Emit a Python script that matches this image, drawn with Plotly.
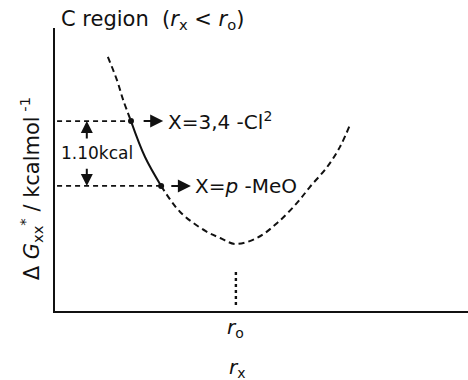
import plotly.graph_objects as go

# Free-energy curve (arbitrary units): dashed outer branches, solid segment between the two substituents
left_x = [1.28, 1.50, 1.65, 1.84]
left_y = [8.98, 8.16, 7.46, 6.71]
mid_x = [1.84, 2.18, 2.57]
mid_y = [6.71, 5.44, 4.42]
right_x = [2.57, 3.03, 3.65, 4.00, 4.36, 4.89, 5.38, 5.86, 6.17, 6.59, 6.90, 7.14]
right_y = [4.42, 3.50, 2.82, 2.58, 2.37, 2.58, 3.11, 3.82, 4.38, 5.09, 5.80, 6.57]

# Substituent points
sub_labels = ["X=3,4 -Cl<sup>2</sup>", "X=<i>p</i> -MeO"]
sub_x = [1.84, 2.57]
sub_y = [6.71, 4.42]
gap_label = "1.10kcal"

r0_x = 4.38
r0_dot_y = [0.21, 1.41]

ink = "#111111"
font_family = "DejaVu Sans, sans-serif"

fig = go.Figure()
dash_style = "6px,4px"
fig.add_trace(go.Scatter(x=left_x, y=left_y, mode="lines",
                         line=dict(color=ink, width=2, dash=dash_style, shape="spline")))
fig.add_trace(go.Scatter(x=mid_x, y=mid_y, mode="lines",
                         line=dict(color=ink, width=2, shape="spline")))
fig.add_trace(go.Scatter(x=right_x, y=right_y, mode="lines",
                         line=dict(color=ink, width=2, dash=dash_style, shape="spline")))

# Horizontal guide lines to the y axis
for sx, sy in zip(sub_x, sub_y):
    fig.add_trace(go.Scatter(x=[0.05, sx], y=[sy, sy], mode="lines",
                             line=dict(color=ink, width=1.7, dash="5px,4px")))

fig.add_trace(go.Scatter(x=sub_x, y=sub_y, mode="markers",
                         marker=dict(color=ink, size=6)))

# Dotted marker above r_o
fig.add_trace(go.Scatter(x=[r0_x, r0_x], y=r0_dot_y, mode="lines",
                         line=dict(color=ink, width=2.4, dash="dot")))

annotations = []
# Pointer arrows and substituent labels
arrow_offsets = [(0.27, 0.78), (0.21, 0.72)]
for (sx, sy), lab, (a0, a1) in zip(zip(sub_x, sub_y), sub_labels, arrow_offsets):
    annotations.append(dict(x=sx + a1, y=sy, ax=sx + a0, ay=sy, xref="x", yref="y",
                            axref="x", ayref="y", text="", showarrow=True,
                            arrowhead=2, arrowsize=1.3, arrowwidth=2, arrowcolor=ink))
    annotations.append(dict(x=sx + a1 + 0.06, y=sy, xref="x", yref="y", text=lab,
                            showarrow=False, xanchor="left", yanchor="middle",
                            font=dict(size=20, color=ink, family=font_family)))

# Double arrow marking the energy gap
gx = 0.77
annotations.append(dict(x=gx, y=sub_y[0], ax=gx, ay=6.04, xref="x", yref="y",
                        axref="x", ayref="y", text="", showarrow=True,
                        arrowhead=2, arrowsize=1.2, arrowwidth=2, arrowcolor=ink))
annotations.append(dict(x=gx, y=sub_y[1], ax=gx, ay=5.08, xref="x", yref="y",
                        axref="x", ayref="y", text="", showarrow=True,
                        arrowhead=2, arrowsize=1.2, arrowwidth=2, arrowcolor=ink))
annotations.append(dict(x=0.1, y=5.58, xref="x", yref="y", text=gap_label,
                        showarrow=False, xanchor="left", yanchor="middle",
                        font=dict(size=17, color=ink, family=font_family)))

# Axis labels and title
annotations.append(dict(x=0.438, y=-0.06, xref="paper", yref="paper",
                        text="<i>r</i><sub>o</sub>", showarrow=False,
                        xanchor="center", yanchor="middle",
                        font=dict(size=20, color=ink, family=font_family)))
annotations.append(dict(x=0.443, y=-0.2, xref="paper", yref="paper",
                        text="<i>r</i><sub>x</sub>", showarrow=False,
                        xanchor="center", yanchor="middle",
                        font=dict(size=20, color=ink, family=font_family)))
annotations.append(dict(x=0.01, y=1.03, xref="paper", yref="paper",
                        text="C region  (<i>r</i><sub>x</sub> &lt; <i>r</i><sub>o</sub>)",
                        showarrow=False, xanchor="left", yanchor="middle",
                        font=dict(size=21, color=ink, family=font_family)))
annotations.append(dict(x=-0.058, y=0.43, xref="paper", yref="paper",
                        text="Δ <i>G</i><sub>xx</sub><sup>*</sup> / kcalmol<sup> -1</sup>",
                        textangle=-90, showarrow=False, xanchor="center", yanchor="middle",
                        font=dict(size=21, color=ink, family=font_family)))

fig.update_layout(
    width=468, height=380,
    margin=dict(l=55, r=0, t=28, b=69),
    paper_bgcolor="white", plot_bgcolor="white",
    showlegend=False,
    annotations=annotations,
    xaxis=dict(range=[0, 10], showgrid=False, zeroline=False, showticklabels=False,
               ticks="", showline=True, linecolor=ink, linewidth=2),
    yaxis=dict(range=[0, 10], showgrid=False, zeroline=False, showticklabels=False,
               ticks="", showline=True, linecolor=ink, linewidth=2),
)

fig.write_html("out.html")
